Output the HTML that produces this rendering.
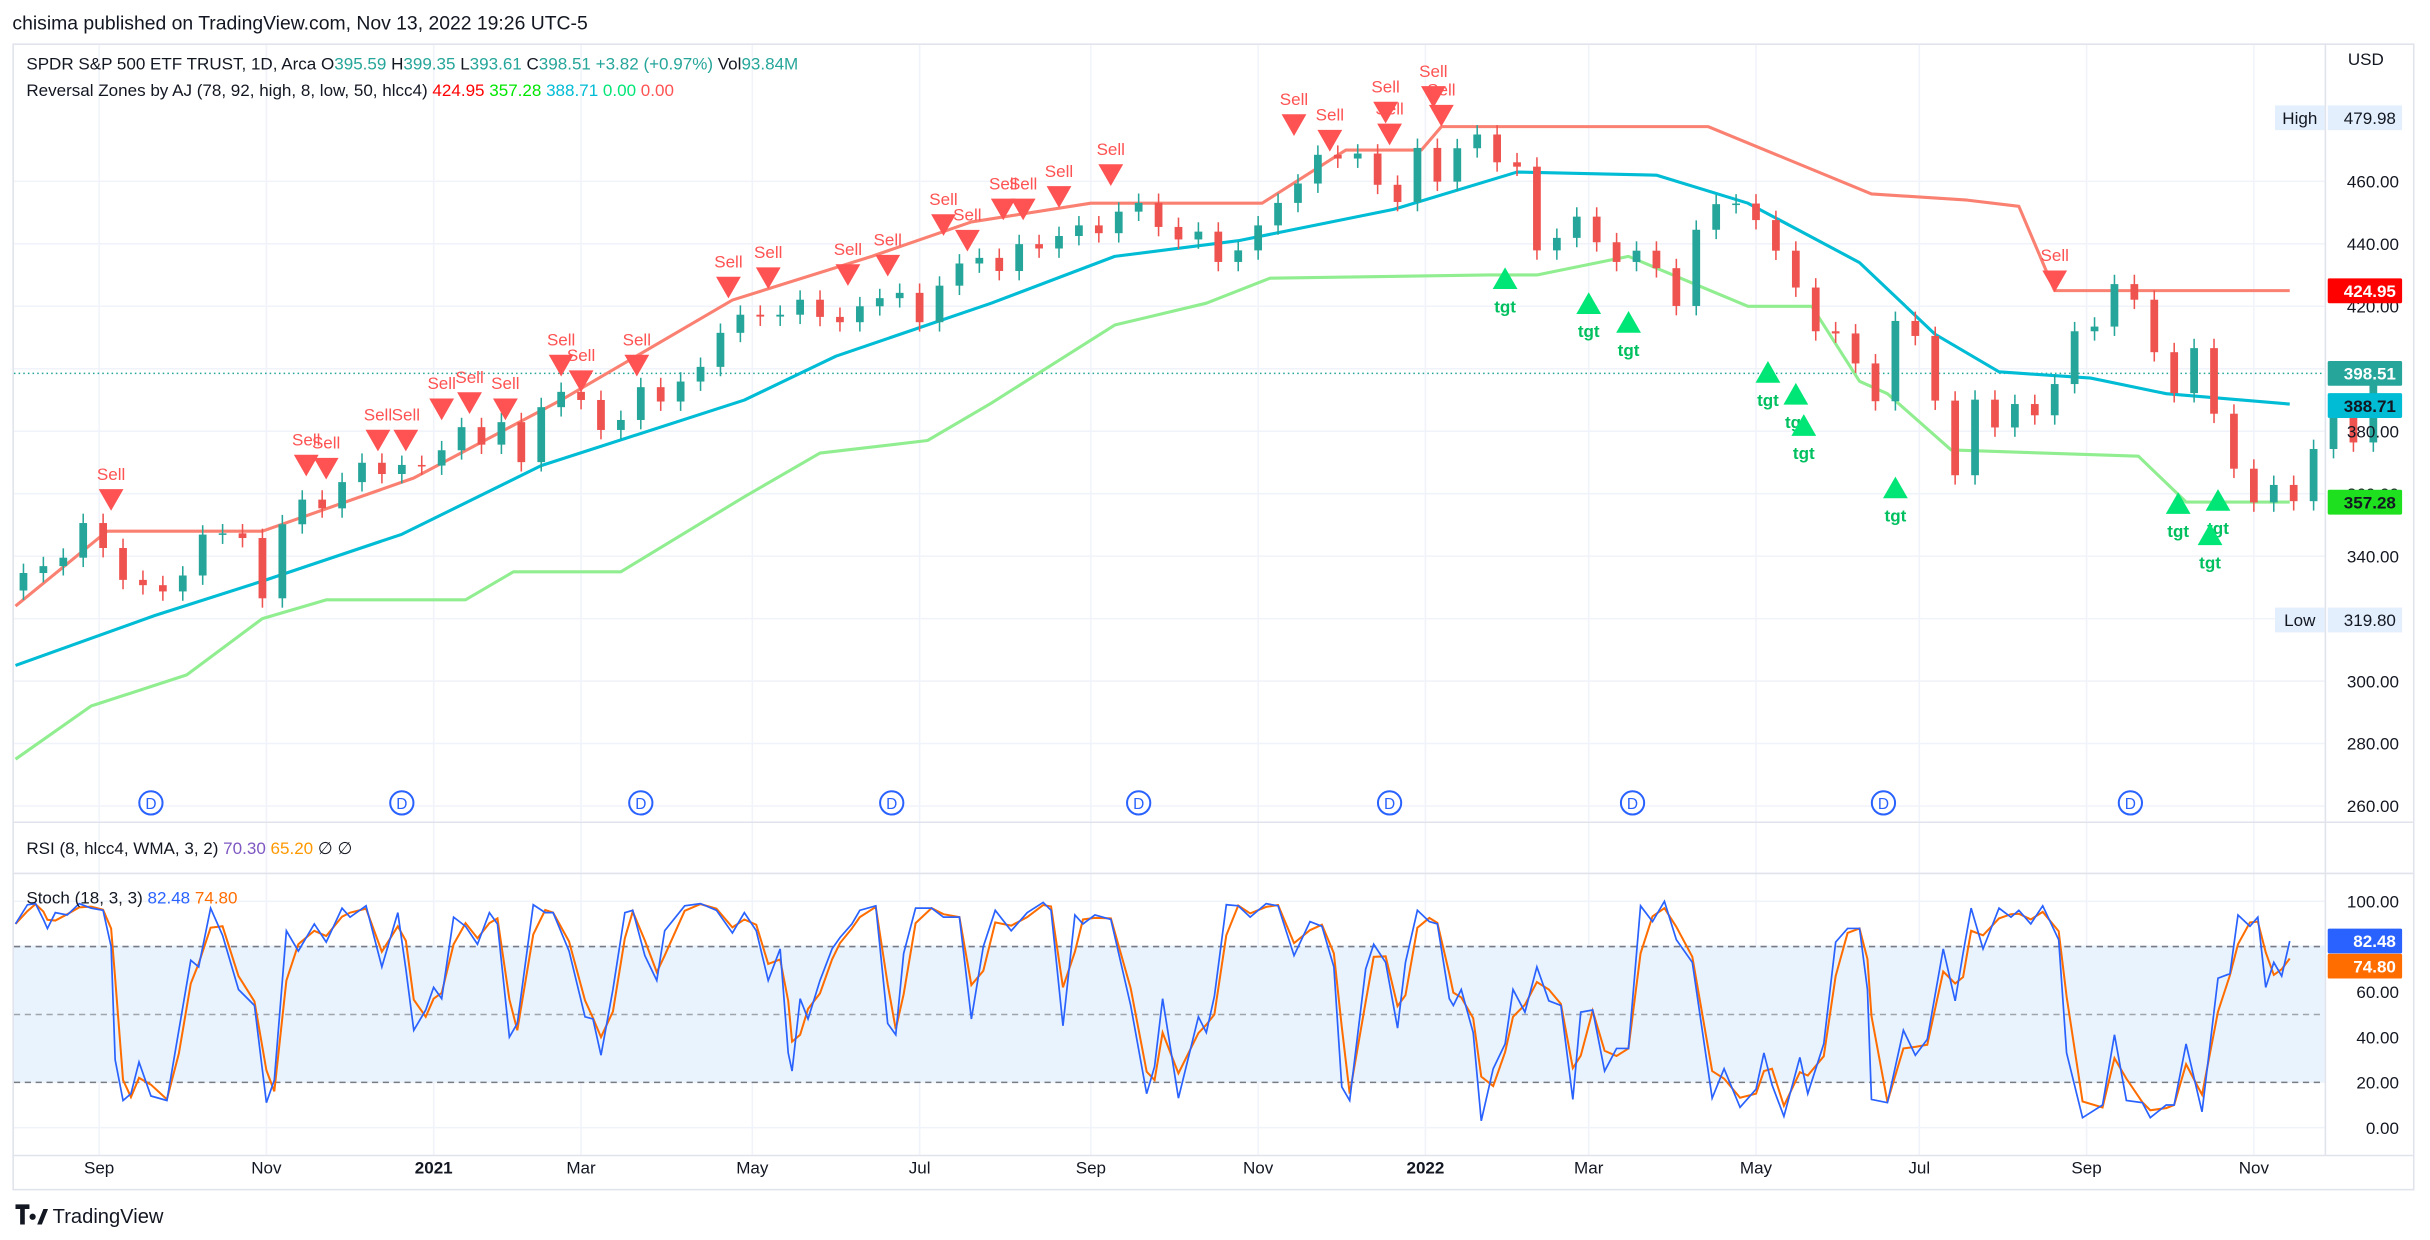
<!DOCTYPE html>
<html><head><meta charset="utf-8"><style>
html,body{margin:0;padding:0;background:#fff;}
svg{display:block;font-family:"Liberation Sans",sans-serif;}
</style></head><body>
<svg id="chart" width="2430" height="1240" viewBox="0 0 1568 800" preserveAspectRatio="none">
<rect x="0" y="0" width="1568" height="800" fill="#fff"/>
<text x="8" y="19" font-size="12.5" fill="#131722">chisima published on TradingView.com, Nov 13, 2022 19:26 UTC-5</text>
<rect x="8.5" y="28.5" width="1549" height="739" fill="none" stroke="#e0e3eb"/>
<g id="grid"></g>
<rect x="9" y="610" width="1491" height="88" fill="#e8f3fd"/>
<g id="bands"></g>
<g id="lines"></g>
<g id="candles"></g>
<g id="markers"></g>
<g id="stoch"></g>
<g id="axes"></g>
<line x1="8" y1="530.5" x2="1557" y2="530.5" stroke="#e0e3eb"/>
<line x1="8" y1="563.5" x2="1557" y2="563.5" stroke="#e0e3eb"/>
<line x1="1500.5" y1="28" x2="1500.5" y2="745" stroke="#e0e3eb"/>
<line x1="8" y1="745.5" x2="1557" y2="745.5" stroke="#e0e3eb"/>
<g font-size="11">
<text x="17" y="45" fill="#131722">SPDR S&amp;P 500 ETF TRUST, 1D, Arca <tspan fill="#131722"> O</tspan><tspan fill="#26a69a">395.59</tspan><tspan fill="#131722"> H</tspan><tspan fill="#26a69a">399.35</tspan><tspan fill="#131722"> L</tspan><tspan fill="#26a69a">393.61</tspan><tspan fill="#131722"> C</tspan><tspan fill="#26a69a">398.51 +3.82 (+0.97%)</tspan><tspan fill="#131722"> Vol</tspan><tspan fill="#26a69a">93.84M</tspan></text>
<text x="17" y="62" fill="#131722">Reversal Zones by AJ (78, 92, high, 8, low, 50, hlcc4) <tspan fill="#ff0000">424.95</tspan> <tspan fill="#00e600">357.28</tspan> <tspan fill="#00bcd4">388.71</tspan> <tspan fill="#00e676">0.00</tspan> <tspan fill="#ff5252">0.00</tspan></text>
</g>
<text x="17" y="551" font-size="11" fill="#131722">RSI (8, hlcc4, WMA, 3, 2) <tspan fill="#7e57c2">70.30</tspan> <tspan fill="#ff9800">65.20</tspan> ∅ ∅</text>
<text x="17" y="583" font-size="11" fill="#131722">Stoch (18, 3, 3) <tspan fill="#2962ff">82.48</tspan> <tspan fill="#ff6d00">74.80</tspan></text>
<text x="1515" y="42" font-size="11" fill="#131722">USD</text>
<g><path d="M10 777h9v3h-3v10h-3v-10h-3z M21 783a2 2 0 1 0 0.1 0z M24 790l4-10h3l-4 10z" fill="#131722"/><text x="34" y="789" font-size="13" fill="#131722">TradingView</text></g>
</svg>
<script>
// ===== data =====
const weeklyCloses=[334.6,336.8,339.5,350.6,342.6,332.4,330.7,328.7,333.8,346.9,347.3,345.8,326.5,350.2,358.1,355.3,363.7,369.9,366.3,369.2,369.0,373.9,381.3,375.7,382.9,370.1,387.7,392.6,390.0,380.4,383.6,394.1,389.5,395.9,400.6,411.5,417.3,416.7,417.3,422.1,416.6,414.9,420.0,422.6,424.3,414.9,426.6,433.7,435.5,431.3,439.9,438.5,442.5,445.9,443.4,450.3,453.1,445.4,441.4,443.9,434.2,437.9,445.9,453.1,459.3,468.5,467.3,468.9,458.9,453.4,470.7,459.9,470.6,475.0,466.1,464.7,437.9,441.9,448.7,440.5,434.2,437.8,432.2,420.1,444.5,452.7,452.9,447.6,437.8,426.0,412.0,411.3,401.7,389.6,415.3,410.5,389.8,365.9,390.1,381.2,388.7,385.1,395.1,412.0,413.5,427.1,422.1,405.3,392.2,406.6,385.6,368.0,357.2,362.8,357.6,374.3,389.0,376.4,398.5];
const firstOpen=329.0;
const upperBars=[0,23,62,100,137,180,215,240,270,313,334,353,358,425,466,490,503,512,571];
const upperVals=[324,348,348,365,390,422,436,447,453,453,470,470,477.5,477.5,456,454,452,425,425];
const midBars=[0,35,62,97,132,183,206,245,276,307,346,377,412,435,463,482,498,521,540,571];
const midVals=[305,321,332,347,369,390,404,421,436,441,451,463,462,453,434,411,399,397,392,388.7];
const lowerBars=[0,19,43,62,78,113,125,136,152,183,202,229,245,276,299,315,370,382,405,435,451,463,470,486,533,545,571];
const lowerVals=[275,292,302,320,326,326,335,335,335,359,373,377,389,414,421,429,430,430,436,420,420,396,392,374,372,357.3,357.3];
const sellBars=[24,73,78,91,98,107,114,123,137,142,156,179,189,209,219,233,239,248,253,262,275,321,330,344,345,356,358,512];
const sellPrices=[358,369,368,377,377,387,389,387,401,396,401,426,429,430,433,446,441,451,451,455,462,478,473,482,475,487,481,428];
const tgtBars=[374,395,405,440,447,449,472,543,553,551];
const tgtPrices=[429,421,415,399,392,382,362,357,358,347];
const divBars=[34,97,157,220,282,345,406,469,531];
const stochBars=[0,3,5,7,8,10,13,16,19,22,24,25,27,29,31,34,38,41,44,46,49,52,56,60,63,65,68,71,75,78,82,84,88,92,96,98,100,103,105,107,110,113,116,119,121,124,126,130,133,135,139,143,145,147,150,153,155,158,161,163,168,172,176,180,183,186,189,192,194,195,197,199,202,205,207,210,212,216,219,221,223,226,230,233,237,240,243,246,250,254,258,260,263,266,268,271,275,280,284,286,288,292,297,299,301,304,307,310,314,317,321,325,328,331,333,335,339,341,344,347,349,352,355,357,360,361,363,366,368,371,374,376,379,382,385,388,391,393,396,399,402,405,408,411,414,417,421,426,429,433,437,439,441,444,448,450,454,457,460,463,465,466,470,474,477,480,484,487,489,491,494,498,501,503,506,509,513,515,519,524,527,530,534,536,540,542,545,549,553,556,558,561,563,565,567,569,571];
const stochK=[90,98.5,99,92,88,95,94,99,97,96,80,30,12,15,29,14,12,43,74,71,97,85,61,54,11,21,87,78,90,82,97,93,98,71,95,70,43,52,62,57,93,89,81,95,90,40,46,98.5,95,95,78,49,48,32,61,95,96,76,65,87,98,99,96,86,95,87,65,79,33,25,57,48,65,79,84,90,96,98,46,41,77,97,97,93,93,48,80,96,87,95,99.5,96,45,94,90,94,92,54,15,27,57,13,49,42,58,98.5,98,93,99,98,76,91,89,71,18,12,70,81,73,44,73,96,91,90,57,54,61,42,3,26,37,61,51,71,56,54,12.5,51,52,25,35,35,98,91,100,83,73,13,26,9,17,33,19,5,31,15,37,82,88,88,61,12.5,11,43,32,39,79,56,77,97,79,97,93,96,90,98,83,33,4.4,10,41,12,11,4.4,10,10,37,7,66,68,94,89,93,62,73,67,82.48];
const priceTicks=[460,440,420,400,380,360,340,320,300,280,260];
const stochTicks=[100,60,40,20,0];
const monthLabels=["Sep","Nov","2021","Mar","May","Jul","Sep","Nov","2022","Mar","May","Jul","Sep","Nov"];
const monthBars=[21,63,105,142,185,227,270,312,354,395,437,478,520,562];

// ===== scales =====
const X0=10, BW=2.57;
const xOf=b=>X0+b*BW;
const yP=p=>117+(460-p)*2.015;
const yS=v=>727.5-v*1.46;
const NS="http://www.w3.org/2000/svg";
function mk(tag,attrs,parent){const e=document.createElementNS(NS,tag);for(const k in attrs)e.setAttribute(k,attrs[k]);parent.appendChild(e);return e;}
const G=id=>document.getElementById(id);

// grid
const grid=G('grid');
priceTicks.forEach(p=>{const l=mk('line',{x1:9,x2:1500,y1:yP(p),y2:yP(p),stroke:'#f0f3fa'},grid);

});
[0,20,40,60,80,100].forEach(v=>{const l=mk('line',{x1:9,x2:1500,y1:yS(v),y2:yS(v),stroke:'#f0f3fa'},grid);

});
monthBars.forEach(b=>{const l=mk('line',{x1:xOf(b),x2:xOf(b),y1:29,y2:745,stroke:'#f0f3fa'},grid);

});

// stoch level lines
const bands=G('bands');
[80,50,20].forEach(v=>{const l=mk('line',{x1:9,x2:1500,y1:yS(v),y2:yS(v),stroke:v==50?'#a0a4ab':'#787b86','stroke-dasharray':'4,3'},bands);

});
const lastLine=mk('line',{x1:9,x2:1500,y1:yP(398.51),y2:yP(398.51),stroke:'#26a69a','stroke-dasharray':'1,2'},bands);



// zone lines
const lines=G('lines');
function poly(bars,vals,color,name){const d=bars.map((b,i)=>(i?'L':'M')+xOf(b).toFixed(1)+' '+yP(vals[i]).toFixed(1)).join('');
const p=mk('path',{d:d,fill:'none',stroke:color,'stroke-width':2,'stroke-linejoin':'round'},lines);

}
poly(upperBars,upperVals,'#fa8072','upper-zone-line');
poly(midBars,midVals,'#00bcd4','middle-zone-line');
poly(lowerBars,lowerVals,'#90ee90','lower-zone-line');

// candles
const cg=G('candles');
weeklyCloses.forEach((c,w)=>{const o=w?weeklyCloses[w-1]:firstOpen;const up=c>=o;const col=up?'#26a69a':'#ef5350';
const xc=xOf(w*5+2);const hi=Math.max(o,c)+3,lo=Math.min(o,c)-3;
const g=mk('g',{},cg);


mk('line',{x1:xc,x2:xc,y1:yP(hi),y2:yP(lo),stroke:col,'stroke-width':1},g);
const t=yP(Math.max(o,c)),bt=yP(Math.min(o,c));
mk('rect',{x:xc-2.5,y:t,width:5,height:Math.max(1,bt-t),fill:col},g);});

// markers
const mg=G('markers');
sellBars.forEach((b,i)=>{const x=xOf(b),y=yP(sellPrices[i]);const g=mk('g',{},mg);


mk('path',{d:`M${x-8} ${y-7}L${x+8} ${y-7}L${x} ${y+7}Z`,fill:'#ff5252'},g);
const t=mk('text',{x:x,y:y-13,'font-size':11,fill:'#ff5252','text-anchor':'middle'},g);t.textContent='Sell';});
tgtBars.forEach((b,i)=>{const x=xOf(b),y=yP(tgtPrices[i]);const g=mk('g',{},mg);


mk('path',{d:`M${x-8} ${y+7}L${x+8} ${y+7}L${x} ${y-7}Z`,fill:'#00e676'},g);
const t=mk('text',{x:x,y:y+22,'font-size':11,fill:'#00c060','text-anchor':'middle','font-weight':'bold'},g);t.textContent='tgt';});
divBars.forEach(b=>{const x=xOf(b);const g=mk('g',{},mg);


mk('circle',{cx:x,cy:518,r:7.5,fill:'#fff',stroke:'#2962ff','stroke-width':1.3},g);
const t=mk('text',{x:x,y:522,'font-size':10,fill:'#2962ff','text-anchor':'middle'},g);t.textContent='D';});

// stoch
const sg=G('stoch');
const kPath=stochBars.map((b,i)=>(i?'L':'M')+xOf(b).toFixed(1)+' '+yS(stochK[i]).toFixed(1)).join('');
function kAt(b){if(b<=stochBars[0])return stochK[0];for(let i=1;i<stochBars.length;i++){if(b<=stochBars[i]){const t=(b-stochBars[i-1])/(stochBars[i]-stochBars[i-1]);return stochK[i-1]+t*(stochK[i]-stochK[i-1]);}}return stochK[stochK.length-1];}
const dPath=stochBars.map((b,i)=>{const v=(kAt(b)+kAt(b-1)+kAt(b-2))/3;return (i?'L':'M')+xOf(b).toFixed(1)+' '+yS(v).toFixed(1);}).join('');
const dp=mk('path',{d:dPath,fill:'none',stroke:'#ff6d00','stroke-width':1.3},sg);


const kp=mk('path',{d:kPath,fill:'none',stroke:'#2962ff','stroke-width':1.1},sg);



// axes
const ax=G('axes');
priceTicks.forEach(p=>{const t=mk('text',{x:1548,y:yP(p)+4,'font-size':11,fill:'#131722','text-anchor':'end'},ax);


t.textContent=p.toFixed(2);});
stochTicks.forEach(v=>{const t=mk('text',{x:1548,y:yS(v)+4,'font-size':11,fill:'#131722','text-anchor':'end'},ax);


t.textContent=v.toFixed(2);});
monthLabels.forEach((m,i)=>{const t=mk('text',{x:xOf(monthBars[i]),y:757,'font-size':11,fill:'#131722','text-anchor':'middle','font-weight':/^20/.test(m)?'bold':'normal'},ax);


t.textContent=m;});
function tag(y,txt,bg,fg,name){const g=mk('g',{},ax);


mk('rect',{x:1502,y:y-8,width:48,height:16,fill:bg,rx:1},g);
const t=mk('text',{x:1546,y:y+4,'font-size':11,fill:fg,'text-anchor':'end','font-weight':'bold'},g);t.textContent=txt;}
function hl(y,lab,val,name){const g=mk('g',{},ax);


mk('rect',{x:1468,y:y-8,width:32,height:16,fill:'#e3effd'},g);
mk('rect',{x:1502,y:y-8,width:48,height:16,fill:'#e3effd'},g);
const a=mk('text',{x:1484,y:y+4,'font-size':11,fill:'#131722','text-anchor':'middle'},g);a.textContent=lab;
const b=mk('text',{x:1546,y:y+4,'font-size':11,fill:'#131722','text-anchor':'end'},g);b.textContent=val;}
hl(76,'High','479.98','high-label');
hl(400,'Low','319.80','low-label');
tag(yP(424.95),'424.95','#ff0000','#fff','upper-zone-tag');
tag(yP(398.51),'398.51','#26a69a','#fff','last-price-tag');
tag(yP(388.71)+1,'388.71','#00bcd4','#131722','middle-zone-tag');
tag(yP(357.28),'357.28','#1ee01e','#131722','lower-zone-tag');
tag(yS(82.48),'82.48','#2962ff','#fff','stoch-k-tag');
tag(yS(74.80)+5,'74.80','#ff6d00','#fff','stoch-d-tag');
</script>
</body></html>
